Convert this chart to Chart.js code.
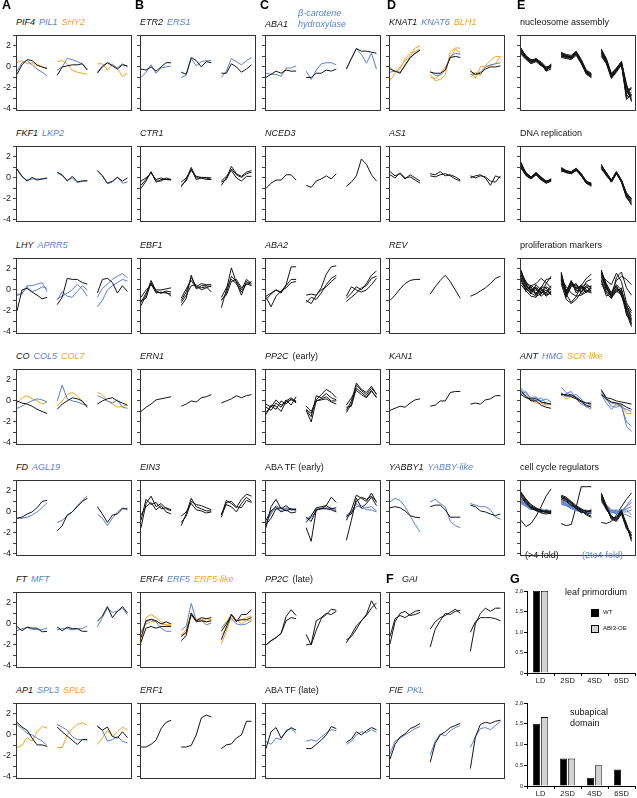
<!DOCTYPE html>
<html lang="en">
<head>
<meta charset="UTF-8">
<title>Expression profiles</title>
<script src="https://cdn.jsdelivr.net/npm/chart.js"></script>
<style>
  body { margin: 0; background: #fff; font-family: "Liberation Sans", Arial, Helvetica, sans-serif; }
  #fig { position: relative; width: 637px; height: 798px; overflow: hidden; }
  .ttl { position: absolute; font-size: 9px; line-height: 10px; white-space: nowrap; color: #111; }
  .ttl span { margin-right: 4px; }
  .lt { position: absolute; font-size: 12.5px; line-height: 12px; font-weight: bold; color: #000; }
  .txt { position: absolute; font-size: 9px; line-height: 11px; white-space: nowrap; color: #111; }
  .sw { position: absolute; width: 6px; height: 6px; border: 0.8px solid #000; }
  .lg { position: absolute; font-size: 6px; line-height: 7px; color: #111; }
</style>
</head>
<body>
<div id="fig"></div>
<script>
// each line: 3 time courses of 7 points (21 values)
// row 1
const PIF4 = [[-0.7,0.2,0.7,0.6,0.2,0.0,-0.15, -0.8,0.0,0.1,0.2,0.2,0.3,-0.3, -0.6,0.0,0.4,0.1,-0.2,0.2,0.1]];
const PIL1 = [[-0.4,0.4,0.6,0.2,-0.2,-0.5,-0.85, -0.3,0.0,0.8,0.7,0.5,0.3,-0.2, -0.5,0.1,0.4,0.2,-0.1,0.3,0.0]];
const SHY2 = [[0.4,0.6,0.3,0.4,0.1,0.0,-0.15, 0.5,0.6,0.3,-0.3,-0.5,-0.6,-0.7, 0.3,0.3,-0.3,0.3,-0.2,-0.9,-0.6]];
const ETR2 = [[-0.2,-0.3,0.0,-0.4,0.0,0.4,0.4, -0.5,-0.7,0.9,0.6,0.0,0.5,0.4, -0.6,-0.6,0.3,0.0,-0.5,-0.2,0.2]];
const ERS1 = [[-1.0,-0.5,0.2,-0.6,-0.1,0.0,0.1, -1.0,-0.8,0.8,0.1,0.5,0.6,0.6, -1.0,-0.4,0.8,0.5,0.2,0.6,0.9]];
const ABA1 = [[-1.0,-0.7,-0.4,-0.6,-0.3,-0.4,-0.4, -1.0,-1.0,-0.6,-0.6,-0.3,-0.4,-0.2, -0.2,0.8,1.75,1.5,1.5,1.4,1.3]];
const BCH = [[-0.6,-0.7,-0.7,-0.9,-0.1,-0.1,0.1, -0.4,-1.2,-0.3,0.3,0.4,0.4,0.2, -0.2,0.8,1.75,1.2,0.35,1.3,-0.2]];
const KNAT1 = [[-0.2,-0.4,-0.6,0.2,0.9,1.3,1.6, -0.5,-0.6,-0.6,-0.3,0.9,1.0,0.9, -0.4,-0.7,-0.6,-0.2,0.0,0.0,0.1]];
const KNAT6 = [[-0.5,-0.4,-0.5,0.1,0.8,1.3,1.6, -0.4,-0.8,-0.8,-0.3,1.0,1.3,1.2, -0.7,-0.7,-0.5,0.0,0.2,0.3,0.4]];
const BLH1 = [[-1.3,-0.6,0.0,0.6,1.0,1.8,2.0, -0.7,-1.3,-1.2,-0.8,1.4,1.8,1.8, -0.2,-1.1,0.0,0.1,0.6,1.0,1.0],
              [0.0,-0.5,-0.2,0.8,1.3,1.5,1.7, -1.0,-1.1,-0.7,0.0,0.8,1.7,1.3, -1.0,-0.5,-0.8,0.0,0.1,0.3,1.0]];
const NUC = [
  [1.8,1.0,0.6,0.8,0.4,-0.1,0.2, 1.4,1.1,1.0,1.4,0.6,-0.4,-0.7, 1.7,0.8,-0.6,-0.1,0.5,-1.6,-3.2],
  [1.5,0.9,0.4,0.7,0.3,-0.3,0.1, 1.2,1.0,0.9,1.3,0.5,-0.6,-0.9, 1.5,0.6,-0.9,-0.3,0.4,-2.0,-2.2],
  [1.3,0.8,0.5,0.6,0.2,-0.2,0.0, 1.0,0.9,0.8,1.2,0.4,-0.5,-0.8, 1.2,0.4,-1.0,-0.4,0.3,-2.4,-1.9],
  [1.6,1.1,0.6,0.7,0.4,-0.4,0.2, 1.3,1.2,1.1,1.5,0.7,-0.3,-0.6, 1.6,0.7,-0.8,-0.2,0.5,-1.8,-2.8],
  [1.2,0.7,0.3,0.5,0.1,-0.1,-0.1, 0.9,0.8,0.7,1.1,0.3,-0.7,-1.0, 1.0,0.3,-1.1,-0.5,0.2,-2.8,-2.4],
  [1.7,1.0,0.5,0.8,0.3,-0.2,0.3, 1.4,1.0,1.0,1.3,0.6,-0.5,-0.9, 1.4,0.5,-0.7,-0.2,0.4,-3.1,-2.6],
  [1.4,0.8,0.4,0.6,0.2,-0.3,0.0, 1.1,1.1,0.8,1.4,0.4,-0.6,-0.7, 1.3,0.6,-0.9,-0.3,0.3,-2.2,-3.0],
  [1.5,1.0,0.7,0.7,0.5,0.0,0.1, 1.2,0.9,1.0,1.2,0.5,-0.4,-0.8, 1.6,0.5,-0.8,-0.4,0.4,-1.9,-3.3],
  [1.3,0.9,0.5,0.6,0.3,-0.4,-0.2, 1.0,1.0,0.9,1.3,0.4,-0.6,-1.0, 1.1,0.4,-1.0,-0.3,0.2,-2.6,-2.0],
  [1.6,0.9,0.5,0.8,0.3,-0.1,0.1, 1.3,1.0,0.9,1.4,0.6,-0.4,-0.7, 1.5,0.7,-0.7,-0.2,0.5,-2.9,-2.7]];
// row 2
const FKF1 = [[0.85,0.15,-0.3,0.05,-0.2,-0.1,0.0, 0.55,0.3,-0.3,0.15,-0.35,-0.3,-0.25, 0.7,0.2,-0.5,-0.3,0.05,-0.3,0.0]];
const LKP2 = [[0.8,0.1,-0.2,-0.1,-0.1,-0.1,-0.05, 0.5,0.2,-0.2,0.0,-0.45,-0.3,-0.3, 0.7,0.25,-0.55,-0.4,0.1,-0.5,-0.4]];
const CTR1 = [
  [-1.0,-0.3,0.6,-0.4,-0.15,-0.15,-0.2, -0.85,-0.15,1.0,0.0,0.0,-0.15,-0.15, -0.7,0.0,1.1,0.4,0.15,0.55,0.7],
  [-0.3,0.0,0.45,-0.15,0.0,-0.15,-0.15, -0.4,0.0,0.7,0.15,0.05,0.05,0.0, -0.3,0.15,0.7,0.0,-0.3,0.15,0.15],
  [-0.7,-0.15,0.55,-0.3,-0.3,0.0,-0.15, -0.7,-0.3,0.85,-0.15,0.0,0.0,-0.15, -0.4,-0.15,0.85,0.3,0.05,0.4,0.55]];
const NCED3 = [[-1.0,-0.5,-0.2,-0.2,0.3,0.3,-0.2, -0.7,-0.9,-0.3,-0.1,0.2,-0.1,0.4, -0.8,-0.4,0.2,1.8,1.3,0.3,-0.3]];
const AS1 = [[0.6,0.2,0.4,-0.1,0.3,0.0,-0.3, 0.4,0.3,0.6,0.2,0.3,0.1,-0.2, 0.0,0.2,0.3,0.0,-0.7,0.2,0.0],
             [0.3,0.0,0.5,0.0,0.1,-0.2,-0.5, 0.2,0.1,0.3,0.4,0.2,-0.1,-0.3, 0.2,0.0,0.2,0.1,-0.3,-0.4,0.2]];
const DNA = [
  [1.4,0.4,0.1,0.5,0.0,-0.3,-0.1, 0.9,0.7,0.6,0.9,0.4,-0.3,-0.5, 1.1,0.5,-0.2,0.6,-0.2,-1.4,-2.0],
  [1.2,0.3,0.0,0.4,-0.1,-0.4,-0.2, 0.8,0.6,0.5,0.8,0.3,-0.4,-0.6, 1.0,0.4,-0.3,0.5,-0.3,-1.6,-2.3],
  [1.0,0.2,-0.1,0.3,-0.2,-0.5,-0.3, 0.7,0.5,0.4,0.7,0.2,-0.5,-0.7, 0.8,0.3,-0.4,0.4,-0.4,-1.8,-2.5],
  [1.3,0.5,0.1,0.5,0.1,-0.3,-0.2, 0.9,0.6,0.6,0.9,0.4,-0.3,-0.6, 1.2,0.5,-0.2,0.6,-0.2,-1.5,-2.1],
  [1.1,0.3,0.0,0.3,-0.1,-0.5,-0.3, 0.6,0.6,0.4,0.8,0.2,-0.5,-0.8, 0.9,0.3,-0.4,0.4,-0.3,-1.7,-2.6],
  [1.5,0.4,0.1,0.4,0.0,-0.4,-0.1, 1.0,0.7,0.5,0.9,0.3,-0.4,-0.5, 1.3,0.4,-0.3,0.5,-0.2,-1.6,-1.9],
  [0.9,0.3,-0.1,0.4,-0.1,-0.3,-0.3, 0.8,0.5,0.5,0.7,0.3,-0.4,-0.7, 1.0,0.2,-0.3,0.4,-0.3,-1.9,-2.4],
  [1.2,0.5,0.0,0.5,0.0,-0.4,-0.2, 0.9,0.6,0.4,0.8,0.2,-0.5,-0.6, 1.1,0.4,-0.2,0.5,-0.4,-1.7,-2.2]];
// row 3
const LHY = [[-2.0,0.0,0.15,-0.2,-0.5,-0.85,-0.7, -1.4,-0.7,1.1,1.0,1.0,0.7,0.55, -0.3,1.0,1.1,0.7,-0.3,0.4,-0.15]];
const APRR5 = [[-0.4,-0.4,0.4,0.4,0.55,0.7,-0.15, -1.0,-0.15,-0.6,-0.7,-0.15,0.4,0.0, -1.6,-1.0,0.0,0.4,0.7,1.0,0.85],
               [-0.55,-0.3,0.3,-0.15,0.0,0.3,0.15, -0.85,-0.6,-0.3,0.0,0.55,0.1,-0.6, -0.7,0.15,0.55,1.0,1.3,1.55,1.15]];
const EBF1 = [
  [-1.5,-0.5,0.9,-0.1,-0.3,-0.2,-0.6, -1.5,-0.8,1.4,0.1,0.4,0.4,0.3, -1.7,0.0,2.1,0.7,-0.5,0.8,0.5],
  [-1.2,-0.3,0.6,0.0,0.0,0.1,0.2, -1.0,-0.2,1.2,0.3,0.6,0.5,0.5, -1.0,-0.3,1.3,0.8,0.0,1.0,0.6],
  [-1.0,-0.8,0.7,-0.3,-0.2,-0.3,-0.4, -0.8,0.1,0.9,0.2,0.2,0.3,-0.2, -0.7,0.2,1.0,0.6,-0.2,0.6,0.4],
  [-0.7,0.0,0.5,-0.2,-0.3,-0.1,-0.2, -1.2,-0.5,0.4,0.5,0.0,0.2,0.4, -0.9,-0.5,0.8,1.0,0.2,0.5,0.8]];
const ABA2 = [
  [-0.6,-0.3,0.0,-0.2,0.5,2.2,2.2, -0.5,-0.4,-0.5,0.2,1.5,2.2,2.3, -0.8,-0.3,0.3,0.0,0.6,1.4,1.8],
  [-0.7,-1.6,-0.6,-0.1,0.2,0.7,0.8, -1.2,-0.7,-0.9,-0.3,0.5,1.1,1.4, -0.6,0.3,0.0,-0.2,0.0,0.5,1.1],
  [-0.9,-0.4,0.0,-0.3,0.4,1.0,1.0, -1.0,-1.3,-0.5,0.0,0.3,0.8,1.2, -1.1,-0.7,-0.3,0.2,0.4,1.1,1.3]];
const REV = [[-1.0,-0.5,0.1,0.6,0.9,1.0,1.0, -0.4,0.3,0.9,1.4,0.8,0.0,-0.8, -0.6,-0.4,-0.1,0.2,0.6,1.1,1.3]];
const PROLIF = [
  [1.8,0.6,-0.2,0.2,-0.3,0.0,-0.4, 1.6,-0.4,0.8,0.3,-0.2,0.4,0.3, 1.9,0.3,-0.6,0.2,-0.3,-1.8,-3.2],
  [1.4,0.3,0.0,-0.4,0.2,-0.5,-0.3, 1.2,-0.6,0.6,0.0,0.5,-0.1,-0.3, 1.5,0.0,-0.4,0.5,0.0,-1.4,-2.8],
  [1.0,-0.2,0.4,0.1,-0.6,-0.2,0.1, 1.5,-0.2,0.9,-0.3,0.2,0.6,0.1, 1.2,0.4,-0.8,-0.1,-0.5,-2.2,-3.5],
  [1.6,0.8,0.1,-0.3,0.3,0.2,-0.5, 0.9,-0.5,0.3,0.5,-0.4,0.0,-0.2, 1.7,0.6,-0.3,0.4,-0.6,-1.6,-2.5],
  [0.7,0.2,-0.4,0.5,0.0,-0.6,-0.2, 1.3,0.0,0.5,0.2,0.4,-0.3,0.2, 1.0,-0.2,-0.5,-0.2,0.2,-2.4,-3.0],
  [1.9,0.5,-0.1,0.0,-0.4,0.3,0.0, 1.7,-0.3,0.7,-0.1,0.1,0.3,-0.1, 1.6,0.2,-0.7,0.0,-0.2,-2.0,-3.3],
  [1.2,0.0,0.3,-0.5,0.1,-0.3,0.4, 1.0,-0.7,0.4,0.6,-0.2,0.2,0.4, 1.3,0.1,-0.2,0.3,-0.4,-1.5,-2.2],
  [1.5,0.4,0.0,0.3,-0.2,-0.4,-0.1, 1.4,-0.1,0.8,0.1,0.3,-0.2,0.0, 1.8,0.5,-0.5,0.1,-0.1,-1.9,-2.9],
  [0.9,0.2,-0.3,-0.6,-0.4,0.6,1.3, 0.8,-0.4,-1.2,-0.6,0.4,1.1,1.5, 0.6,-0.3,-0.8,1.2,1.7,0.2,-0.5],
  [0.5,-0.1,-0.6,-0.7,0.2,1.0,1.1, 0.6,-0.9,-1.3,-0.9,-0.2,0.8,1.0, 0.9,-0.6,-0.3,0.9,1.3,1.0,0.5],
  [1.1,0.6,0.4,0.6,1.1,0.7,0.2, 1.1,0.3,-0.3,-0.6,-0.5,-0.2,0.3, 1.4,0.9,0.5,1.6,0.8,-1.2,-2.0]];
// row 4
const CO = [[0.0,-0.2,-0.3,-0.5,-0.8,-1.0,-1.2, -0.8,-0.3,0.0,0.3,0.2,0.0,-0.6, -0.3,0.0,0.2,0.3,0.0,-0.2,-0.4]];
const COL5 = [[-0.7,-0.5,-0.2,0.0,0.2,0.1,-0.1, 0.0,1.5,0.2,0.0,-0.1,-0.3,-0.4, 0.5,0.3,0.0,-0.2,0.1,-0.6,-0.7]];
const COL7 = [[-0.2,0.3,0.5,0.2,0.0,-0.3,-0.1, -0.5,0.0,0.6,0.8,0.5,-0.1,-0.6, 0.8,0.6,0.0,-0.3,-0.6,-0.5,-0.4]];
const ERN1 = [[-1.0,-0.6,-0.3,0.1,0.2,0.3,0.4, -0.5,-0.3,0.0,-0.1,0.3,0.4,0.6, -0.2,0.0,0.2,0.5,0.3,0.5,0.6]];
const PP2C_E = [
  [-1.1,-0.5,-0.8,0.0,-0.3,0.2,-0.2, -0.9,-1.5,0.5,0.3,0.7,0.3,0.1, -1.1,-0.3,1.5,1.0,0.6,1.2,0.7],
  [-0.6,-0.9,-0.2,-0.6,0.1,-0.4,0.4, -0.9,-2.0,0.0,0.1,0.2,-0.1,-0.3, -0.6,-0.5,1.2,0.8,0.4,1.0,0.3],
  [-1.3,-0.4,-0.5,-1.0,0.0,0.3,-0.1, -0.8,-1.2,0.1,0.6,1.1,0.8,0.3, -0.9,0.0,1.7,1.1,0.8,1.4,0.6],
  [-0.3,-0.6,0.1,-0.4,-0.1,0.1,0.0, -0.5,-1.0,0.0,0.2,0.4,0.0,0.0, -0.4,0.3,1.0,0.6,0.3,0.9,0.4]];
const KAN1 = [[-0.9,-0.7,-0.5,-0.6,-0.2,0.1,0.2, -0.5,-0.4,0.0,0.0,0.8,0.9,0.9, -0.3,-0.2,-0.3,0.1,0.2,0.5,0.5]];
const ANT = [[1.0,0.4,0.0,0.0,-0.4,-0.6,-0.7, 0.6,0.6,0.4,0.2,-0.1,-0.4,-0.6, 1.0,0.3,0.2,0.0,-0.1,-0.2,-0.3],
             [0.6,0.3,0.2,0.2,-0.1,-0.2,-0.3, 0.7,0.5,0.6,0.3,0.0,-0.2,-0.3, 0.6,0.2,-0.1,-0.2,-0.3,-0.6,-0.8]];
const HMG = [[1.2,0.7,0.3,0.4,-0.1,-0.3,-0.2, 1.3,0.8,0.5,0.6,0.2,-0.6,-0.4, 1.1,0.2,-0.5,-0.6,-0.4,-2.4,-2.9],
             [0.8,0.5,0.0,0.3,0.0,0.2,-0.1, 0.5,0.7,0.9,0.2,-0.3,-0.5,-0.8, 0.8,0.1,-0.2,-0.2,-0.5,-2.0,-2.4],
             [0.6,0.9,0.1,0.0,0.3,-0.2,-0.3, 0.8,0.4,0.5,0.4,0.0,-0.2,-0.1, 0.6,-0.2,-0.8,-0.3,-0.6,-0.8,-1.0]];
const SCR = [[0.8,0.5,0.1,-0.2,-0.2,-0.4,-0.3, 0.6,0.2,0.4,0.2,-0.1,-0.5,-0.2, 1.0,0.1,-0.1,-0.4,-0.3,-1.2,-1.2]];
// row 5
const FD = [[-0.6,-0.5,-0.2,0.0,0.4,1.0,1.1, -1.8,-1.3,-0.3,0.0,0.5,1.0,1.3, 0.5,-0.2,-1.0,-0.3,-0.2,0.3,0.3]];
const AGL19 = [[-0.6,-0.6,-0.5,-0.3,0.0,0.4,0.9, -1.0,-0.8,-0.4,0.0,0.6,1.1,1.5, -0.2,-0.6,-1.3,-0.6,0.0,0.4,0.2]];
const EIN3 = [
  [-1.5,0.8,1.5,0.5,0.8,0.3,0.1, -1.3,-0.2,1.3,0.5,0.3,0.1,0.1, -0.3,1.1,0.8,0.4,1.2,1.7,1.5],
  [-0.8,1.2,0.7,0.9,0.3,0.4,0.2, -0.4,0.0,0.8,0.2,0.1,-0.1,0.0, -0.2,0.7,0.5,0.0,0.8,1.4,1.0],
  [-0.3,0.5,0.9,0.2,0.6,0.0,-0.2, -1.0,-0.4,1.0,0.7,0.6,0.4,0.2, -0.5,0.9,1.0,0.5,0.4,1.1,0.9]];
const ABATF_E = [
  [-1.5,0.5,1.2,0.3,0.6,0.2,0.3, -1.5,-2.8,0.2,0.3,0.6,1.4,0.9, -0.8,0.2,1.6,1.3,1.0,1.8,0.9],
  [-0.8,0.1,0.5,0.0,0.2,-0.1,0.0, -0.5,-0.9,0.2,0.3,0.3,0.2,0.0, -2.7,-0.8,1.3,0.4,0.8,1.4,0.6],
  [-1.2,-0.6,0.3,0.4,0.1,0.3,0.2, -1.0,-0.4,0.4,0.5,0.6,0.3,0.4, -0.4,-0.2,1.0,1.4,1.2,1.5,1.0]];
const ABATF_E_B = [
  [-1.0,-0.2,0.6,0.3,0.3,0.2,0.2, -0.8,-0.3,0.3,0.3,0.4,0.3,0.1, -0.3,0.0,0.8,0.3,0.4,0.5,0.1],
  [-1.2,0.0,0.3,0.1,0.4,0.3,0.1, -0.6,-0.6,0.1,0.4,0.3,0.4,0.2, -0.5,-0.1,0.5,0.6,0.2,0.2,0.0]];
const YABBY1 = [[0.4,0.5,0.4,0.1,-0.35,-0.5,-0.55, 0.5,0.65,0.65,0.2,-0.5,-0.5,-0.5, 0.65,0.5,0.1,0.0,-0.2,-0.35,-0.2]];
const YABBYL = [[0.95,1.3,1.1,0.5,-0.35,-1.2,-1.9, 0.95,1.2,0.8,0.5,-0.9,-1.3,-1.5, 0.8,0.65,0.5,0.5,0.2,-0.5,-0.7]];
const CC_UP = [
  [1.9,1.2,0.6,0.3,0.1,0.0,-0.1, 1.5,1.3,0.9,0.5,0.2,0.1,0.0, 1.8,0.6,-0.4,-0.7,0.0,-1.2,-2.3],
  [1.6,1.0,0.5,0.2,0.0,0.1,0.0, 1.3,1.2,0.8,0.4,0.1,-0.2,-0.4, 1.6,0.4,-0.6,-0.8,-0.1,-1.4,-2.6],
  [1.8,1.1,0.4,0.3,0.2,-0.1,0.1, 1.6,1.4,1.0,0.6,0.3,0.0,0.1, 1.4,0.3,-0.5,-0.6,0.1,-1.1,-2.8],
  [1.5,0.9,0.4,0.1,0.0,0.0,-0.2, 1.4,1.1,0.7,0.3,0.0,-0.1,-0.2, 1.7,0.5,-0.7,-0.9,-0.2,-1.6,-2.2],
  [1.7,1.2,0.7,0.4,0.1,0.1,0.0, 1.2,1.0,0.6,0.5,0.2,-0.3,-0.5, 1.2,0.2,-0.4,-0.7,0.0,-1.3,-2.5],
  [1.4,0.8,0.3,0.2,-0.1,-0.2,-0.1, 1.5,1.2,0.9,0.3,-0.1,0.0,0.2, 1.5,0.4,-0.6,-0.5,0.2,-1.5,-2.0]];
const CC_MID = [
  [1.1,0.8,0.5,0.3,0.2,0.1,0.0, 1.0,0.8,0.5,0.3,0.2,0.1,0.0, 1.3,0.7,0.1,0.0,0.1,0.5,0.9],
  [0.9,0.6,0.3,0.2,0.1,0.2,0.1, 0.9,0.7,0.4,0.2,0.0,0.1,-0.1, 1.1,0.5,0.0,-0.1,0.2,0.2,-0.3],
  [1.0,0.7,0.4,0.1,0.3,0.0,0.2, 1.1,0.9,0.6,0.3,0.3,-0.1,0.1, 1.4,0.6,0.2,0.1,0.0,0.6,1.2],
  [0.8,0.5,0.2,0.3,0.0,0.1,0.0, 0.8,0.6,0.3,0.1,0.1,0.0,0.2, 0.9,0.4,-0.1,0.0,-0.1,-0.3,-0.5],
  [1.2,0.9,0.5,0.2,0.2,0.0,0.1, 1.0,0.7,0.5,0.4,0.1,0.2,-0.1, 1.2,0.6,0.1,0.2,0.1,0.3,0.5],
  [0.9,0.7,0.3,0.2,0.0,0.2,0.1, 0.7,0.6,0.4,0.2,0.0,-0.1,0.0, 1.0,0.3,0.0,-0.2,0.0,0.0,0.2]];
const CC_ODD = [[-0.8,-1.4,-1.1,-0.4,0.5,1.5,2.2, -1.1,-1.3,-1.2,0.5,2.4,2.4,2.4, -1.0,-1.1,-0.9,-0.3,0.5,1.2,1.8]];
// row 6
const FT = [[-0.25,-0.65,-0.3,-0.4,-0.4,-0.75,-0.7, -0.3,-0.65,-0.3,-0.45,-0.45,-0.7,-0.7, 0.25,0.75,1.65,0.6,1.2,1.65,1.05]];
const MFT = [[-0.65,-0.45,-0.35,-0.5,-0.55,-0.55,-0.4, -0.55,-0.45,-0.45,-0.55,-0.45,-0.45,-0.2, -0.25,0.6,1.5,1.1,1.2,1.5,0.9]];
const ERF4 = [[-1.3,0.3,0.45,0.3,0.0,0.2,0.0, -1.6,-1.1,1.05,0.3,0.6,0.5,0.6, -0.7,0.0,0.9,0.2,0.9,0.9,1.35],
              [-1.7,-0.4,-0.25,-0.4,-0.25,-0.25,-0.25, -1.2,-0.8,0.9,0.2,0.3,0.2,0.3, -1.5,-0.3,0.9,0.3,0.4,0.4,0.6]];
const ERF5 = [[-0.85,0.2,0.4,0.2,-0.4,-0.7,-0.7, -0.6,-0.2,1.95,0.3,0.4,-0.1,0.1, -0.4,0.2,0.5,0.0,-0.1,0.0,0.3]];
const ERF5L = [[-2.0,0.6,0.9,0.6,0.2,-0.1,-0.1, -1.2,-0.5,1.0,0.4,0.5,0.2,0.3, -1.9,-0.7,0.9,0.3,0.4,0.6,0.75],
               [-0.7,0.0,0.2,0.3,0.0,-0.1,-0.2, -1.0,-0.9,0.8,0.5,0.2,0.5,0.4, -1.0,-0.5,0.6,0.4,0.0,0.3,0.4]];
const PP2C_L = [[-2.0,-1.6,-1.3,-0.9,0.7,1.35,0.8, -1.0,-2.0,-0.6,0.5,0.9,1.4,1.3, -1.8,-1.0,-0.2,0.3,0.9,2.2,1.4],
                [-2.0,-1.6,-1.3,-0.9,0.3,0.6,0.5, -2.0,-1.9,0.3,0.6,1.0,0.9,1.2, -1.5,-1.2,-0.5,0.3,0.8,1.5,2.0]];
const GAI = [[-1.9,0.2,1.0,1.2,0.8,0.9,1.1, -2.2,-0.5,0.3,1.0,0.9,1.2,1.3, -2.6,0.0,1.0,1.5,1.2,1.5,1.5],
             [-1.2,0.5,0.8,0.6,0.9,1.2,1.3, -0.5,0.2,0.6,0.8,1.1,1.4,1.0, -0.8,0.2,0.6,0.6,0.6,0.5,0.3]];
// row 7
const AP1 = [[1.2,0.75,0.45,-0.3,-0.95,-0.95,-1.1, 0.75,0.3,-0.1,-0.5,-0.9,-0.45,-0.45, 0.8,0.45,0.75,-0.15,-0.3,0.3,-0.25]];
const SPL3 = [[1.0,0.6,0.15,0.0,-0.3,-0.6,-1.0, 1.0,0.75,0.45,-0.15,-0.45,-0.45,-0.45, 0.9,0.45,-0.6,-0.45,-0.15,-0.6,-0.75]];
const SPL6 = [[-1.2,-1.0,-0.25,-0.6,0.3,0.8,0.65, -1.2,-1.2,0.0,0.6,1.0,1.15,0.95, -0.9,-0.3,0.45,-0.15,0.3,0.75,0.45]];
const ERF1 = [[-1.15,-1.15,-0.9,-0.5,0.6,1.2,1.4, -1.15,-1.15,-1.0,0.0,1.6,1.9,1.7, -1.3,-0.95,-0.85,-0.3,0.0,1.3,1.3]];
const ABATF_L = [[-1.3,0.3,0.7,-0.3,0.3,0.7,0.45, -1.3,-1.3,-0.9,-0.5,0.0,0.8,0.6, -0.7,-0.4,0.3,0.0,0.4,0.7,0.5]];
const ABATF_L_B = [[-0.6,-0.9,-0.3,-0.45,0.45,0.6,0.15, -0.6,-0.45,-0.6,-0.2,0.2,0.5,0.4, -0.9,-0.6,0.0,0.3,0.2,0.5,0.3]];
const FIE = [[-2.3,-0.9,-0.2,0.1,0.6,0.8,1.1, -2.6,-0.8,0.0,0.3,0.7,0.9,1.1, -3.2,-0.2,1.0,1.2,1.1,1.3,1.4]];
const PKL = [[-1.8,-0.6,-0.3,0.0,0.3,0.6,0.8, -1.9,-0.6,0.1,-0.1,0.4,0.7,0.9, -1.2,-0.2,0.6,0.7,0.5,0.9,1.3]];

// panel G
const gLabels = ['LD', '2SD', '4SD', '6SD'];
const leafWT = [2.0, 0, 0, 0];
const leafOE = [2.0, 0, 0, 0];
const subWT = [1.5, 0.66, 0.2, 0.4];
const subOE = [1.66, 0.66, 0.5, 0];
const yTicks = [-4, -3, -2, -1, 0, 1, 2, 3];

const COL = { k: '#141414', b: '#5a7fcb', o: '#f4a21d' };
const FONT = '"Liberation Sans", Arial, Helvetica, sans-serif';
const colLeft = [16, 140, 265, 389, 520];
const rowTop = [30, 141, 253, 364, 475, 587, 698];
const BOX_W = 116, BOX_H = 87, AXIS_W = 16;
const fig = document.getElementById('fig');

const panels = [
  { c: 0, r: 0, t: [['PIF4','k'],['PIL1','b'],['SHY2','o']], s: [[PIF4,'k'],[PIL1,'b'],[SHY2,'o']] },
  { c: 1, r: 0, t: [['ETR2','k'],['ERS1','b']], s: [[ETR2,'k'],[ERS1,'b']] },
  { c: 2, r: 0, t: [['ABA1','k']], ty: 19, s: [[ABA1,'k'],[BCH,'b']] },
  { c: 3, r: 0, t: [['KNAT1','k'],['KNAT6','b'],['BLH1','o']], s: [[KNAT1,'k'],[KNAT6,'b'],[BLH1,'o']] },
  { c: 4, r: 0, t: [['nucleosome assembly','k',0]], s: [[NUC,'k']] },
  { c: 0, r: 1, t: [['FKF1','k'],['LKP2','b']], s: [[FKF1,'k'],[LKP2,'b']] },
  { c: 1, r: 1, t: [['CTR1','k']], s: [[CTR1,'k']] },
  { c: 2, r: 1, t: [['NCED3','k']], s: [[NCED3,'k']] },
  { c: 3, r: 1, t: [['AS1','k']], s: [[AS1,'k']] },
  { c: 4, r: 1, t: [['DNA replication','k',0]], s: [[DNA,'k']] },
  { c: 0, r: 2, t: [['LHY','k'],['APRR5','b']], s: [[LHY,'k'],[APRR5,'b']] },
  { c: 1, r: 2, t: [['EBF1','k']], s: [[EBF1,'k']] },
  { c: 2, r: 2, t: [['ABA2','k']], s: [[ABA2,'k']] },
  { c: 3, r: 2, t: [['REV','k']], s: [[REV,'k']] },
  { c: 4, r: 2, t: [['proliferation markers','k',0]], s: [[PROLIF,'k']] },
  { c: 0, r: 3, t: [['CO','k'],['COL5','b'],['COL7','o']], s: [[CO,'k'],[COL5,'b'],[COL7,'o']] },
  { c: 1, r: 3, t: [['ERN1','k']], s: [[ERN1,'k']] },
  { c: 2, r: 3, t: [['PP2C','k'],['(early)','k',0]], s: [[PP2C_E,'k']] },
  { c: 3, r: 3, t: [['KAN1','k']], s: [[KAN1,'k']] },
  { c: 4, r: 3, t: [['ANT','k'],['HMG','b'],['SCR-like','o']], s: [[ANT,'k'],[HMG,'b'],[SCR,'o']] },
  { c: 0, r: 4, t: [['FD','k'],['AGL19','b']], s: [[FD,'k'],[AGL19,'b']] },
  { c: 1, r: 4, t: [['EIN3','k']], s: [[EIN3,'k']] },
  { c: 2, r: 4, t: [['ABA TF (early)','k',0]], s: [[ABATF_E,'k'],[ABATF_E_B,'b']] },
  { c: 3, r: 4, t: [['YABBY1','k'],['YABBY-like','b']], s: [[YABBY1,'k'],[YABBYL,'b']] },
  { c: 4, r: 4, t: [['cell cycle regulators','k',0]], s: [[CC_UP,'k'],[CC_MID,'b'],[CC_ODD,'k']] },
  { c: 0, r: 5, t: [['FT','k'],['MFT','b']], s: [[FT,'k'],[MFT,'b']] },
  { c: 1, r: 5, t: [['ERF4','k'],['ERF5','b'],['ERF5-like','o']], s: [[ERF4,'k'],[ERF5,'b'],[ERF5L,'o']] },
  { c: 2, r: 5, t: [['PP2C','k'],['(late)','k',0]], s: [[PP2C_L,'k']] },
  { c: 3, r: 5, t: [['GAI','k']], tx: 402, s: [[GAI,'k']] },
  { c: 0, r: 6, t: [['AP1','k'],['SPL3','b'],['SPL6','o']], s: [[AP1,'k'],[SPL3,'b'],[SPL6,'o']] },
  { c: 1, r: 6, t: [['ERF1','k']], s: [[ERF1,'k']] },
  { c: 2, r: 6, t: [['ABA TF (late)','k',0]], s: [[ABATF_L,'k'],[ABATF_L_B,'b']] },
  { c: 3, r: 6, t: [['FIE','k'],['PKL','b']], s: [[FIE,'k'],[PKL,'b']] }
];

function addText(cls, html, x, y, color) {
  const d = document.createElement('div');
  d.className = cls;
  d.innerHTML = html;
  d.style.left = x + 'px';
  d.style.top = y + 'px';
  if (color) d.style.color = color;
  fig.appendChild(d);
  return d;
}

// three time courses with a gap between them
function toPoints(vals) {
  const pts = [];
  for (let s = 0; s < 3; s++) {
    for (let i = 0; i < 7; i++) pts.push({ x: s * 8 + i, y: vals[s * 7 + i] });
    if (s < 2) pts.push({ x: s * 8 + 7, y: null });
  }
  return pts;
}

const boxPlugin = {
  id: 'box',
  afterDraw(chart) {
    const a = chart.chartArea, c = chart.ctx;
    c.save();
    c.strokeStyle = '#333';
    c.lineWidth = 1;
    c.strokeRect(Math.round(a.left) + 0.5, Math.round(a.top) + 0.5,
                 Math.round(a.right - a.left) - 1, Math.round(a.bottom - a.top) - 1);
    c.restore();
  }
};

panels.forEach(p => {
  const x0 = colLeft[p.c], y0 = rowTop[p.r];
  const cv = document.createElement('canvas');
  cv.width = AXIS_W + BOX_W + 2;
  cv.height = BOX_H + 4;
  cv.style.cssText = `position:absolute;left:${x0 - AXIS_W}px;top:${y0 - 2}px`;
  fig.appendChild(cv);

  const datasets = [];
  p.s.forEach(([lines, c]) => lines.forEach(v => datasets.push({
    data: toPoints(v), borderColor: COL[c], borderWidth: 1, pointRadius: 0, tension: 0, fill: false
  })));

  new Chart(cv, {
    type: 'line',
    data: { datasets },
    options: {
      responsive: false, animation: false, events: [],
      layout: { padding: { top: 2, bottom: 2, right: 2, left: 0 } },
      plugins: { legend: { display: false }, tooltip: { enabled: false } },
      scales: {
        x: { type: 'linear', min: -0.2, max: 22.9, display: false },
        y: {
          min: -4.25, max: 3,
          afterBuildTicks: s => { s.ticks = yTicks.map(v => ({ value: v })); },
          afterFit: s => { s.width = AXIS_W; },
          grid: { drawOnChartArea: false, tickLength: 3, color: '#444' },
          border: { display: false },
          ticks: {
            autoSkip: false, padding: 2, color: '#222',
            font: { size: 9, family: FONT },
            callback: v => (p.c === 0 && v % 2 === 0) ? String(v) : ''
          }
        }
      }
    },
    plugins: [boxPlugin]
  });

  const html = p.t.map(([txt, c, it]) =>
    `<span style="color:${COL[c]};font-style:${it === 0 ? 'normal' : 'italic'}">${txt}</span>`).join('');
  addText('ttl', html, p.tx || x0, p.ty || (y0 - 13));
});

// second gene name over panel C, first row
addText('ttl', '<i>β-carotene<br>hydroxylase</i>', 298, 8, COL.b).style.lineHeight = '11px';

// panel letters
[['A', 2, -1], ['B', 135, -1], ['C', 260, -1], ['D', 387, -1], ['E', 517, -1], ['F', 386, 573], ['G', 510, 573]]
  .forEach(([l, x, y]) => addText('lt', l, x, y));

// cell cycle notes
addText('txt', '(&gt;4-fold)', 525, 550);
addText('txt', '(2to4-fold)', 582, 550, COL.b);

// panel G bar charts
function barChart(top, height, xH, wt, oe) {
  const cv = document.createElement('canvas');
  cv.width = 140; cv.height = height;
  cv.style.cssText = `position:absolute;left:497px;top:${top}px`;
  fig.appendChild(cv);
  new Chart(cv, {
    type: 'bar',
    data: {
      labels: gLabels,
      datasets: [
        { label: 'WT', data: wt, backgroundColor: '#000', borderColor: '#000', borderWidth: 0.8 },
        { label: 'ABI3-OE', data: oe, backgroundColor: '#d2d2d2', borderColor: '#000', borderWidth: 0.8 }
      ]
    },
    options: {
      responsive: false, animation: false, events: [],
      layout: { padding: { top: 7, right: 2, left: 0, bottom: 0 } },
      plugins: { legend: { display: false }, tooltip: { enabled: false } },
      datasets: { bar: { barPercentage: 0.88, categoryPercentage: 0.6 } },
      scales: {
        x: {
          afterFit: s => { s.height = xH; },
          grid: { drawOnChartArea: false, tickLength: 3, color: '#000' },
          border: { display: true, color: '#000' },
          ticks: { padding: 0, color: '#111', font: { size: 7.5, family: FONT }, maxRotation: 0, autoSkip: false }
        },
        y: {
          min: 0, max: 2,
          afterFit: s => { s.width = 30; },
          grid: { drawOnChartArea: false, tickLength: 3, color: '#000' },
          border: { display: true, color: '#000' },
          ticks: { stepSize: 0.5, padding: 1, color: '#111', font: { size: 5.5, family: FONT },
                   callback: v => v === 0 ? '0' : v.toFixed(1) }
        }
      }
    }
  });
}
barChart(584, 104, 15, leafWT, leafOE);
barChart(696, 102, 12, subWT, subOE);

addText('txt', 'leaf primordium', 565, 587);
addText('txt', 'subapical<br>domain', 570, 707);
const s1 = addText('sw', '', 591, 609); s1.style.background = '#000';
const s2 = addText('sw', '', 591, 625); s2.style.background = '#d2d2d2';
addText('lg', 'WT', 603, 609);
addText('lg', 'ABI3-OE', 603, 625);
</script>
</body>
</html>
